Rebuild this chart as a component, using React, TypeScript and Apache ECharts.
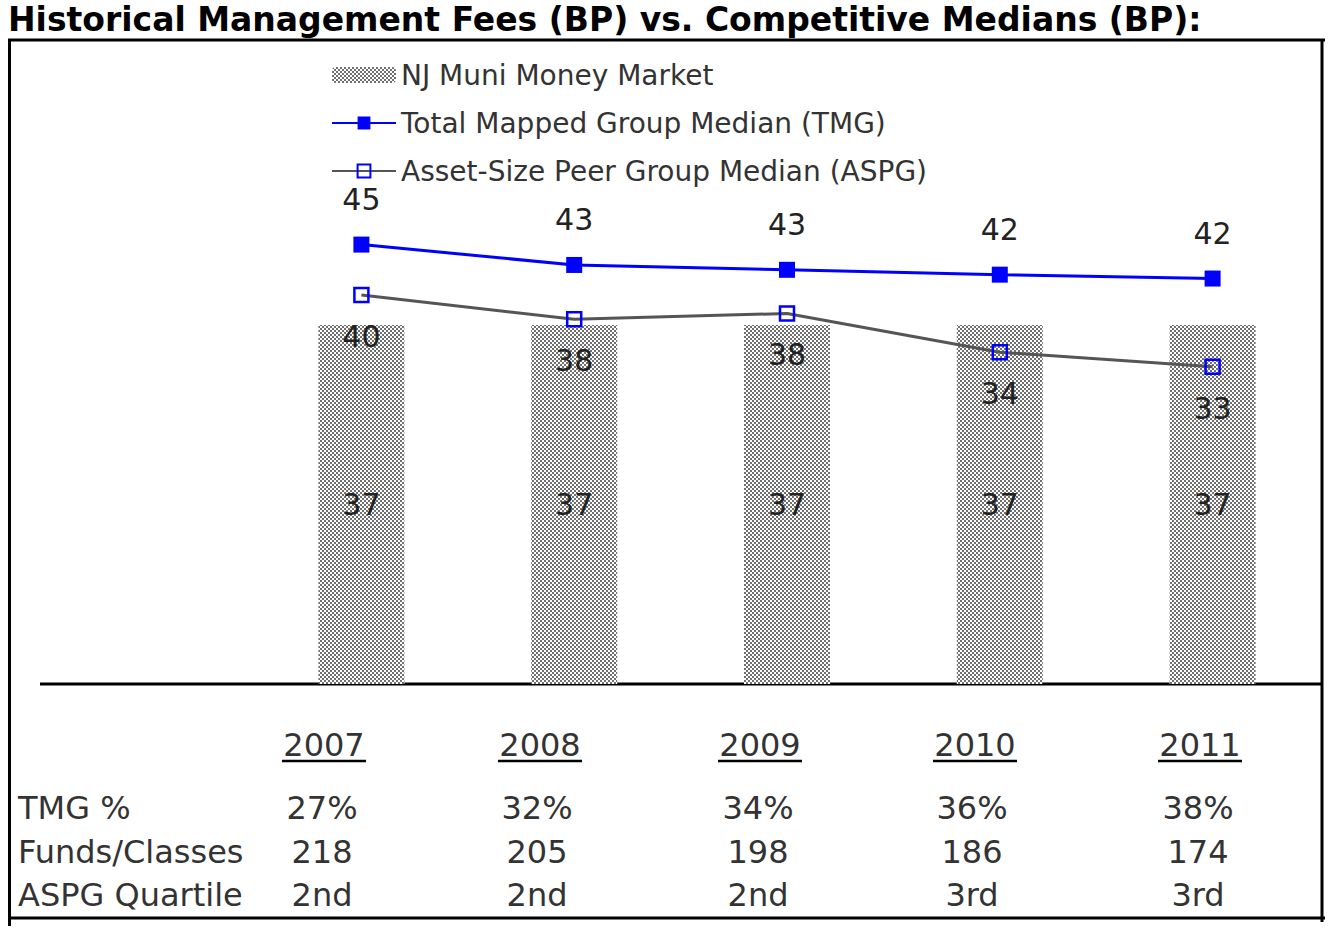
import React, { useEffect, useRef } from "react";
import * as echarts from "echarts";

const years = ["2007", "2008", "2009", "2010", "2011"];
const fundValues = [37, 37, 37, 37, 37];
const tmgMedian = [45.3, 43.2, 42.7, 42.2, 41.8];
const aspgMedian = [40.1, 37.6, 38.2, 34.2, 32.7];
const tmgPct = ["27%", "32%", "34%", "36%", "38%"];
const fundsClasses = ["218", "205", "198", "186", "174"];
const aspgQuartile = ["2nd", "2nd", "2nd", "3rd", "3rd"];
const rowLabels = ["TMG %", "Funds/Classes", "ASPG Quartile"];
const titleText = "Historical Management Fees (BP) vs. Competitive Medians (BP):";

const FONT = "'DejaVu Sans', Verdana, sans-serif";

export default function App() {
  const ref = useRef<HTMLDivElement>(null);
  useEffect(() => {
    if (!ref.current) return;
    const chart = echarts.init(ref.current, undefined, { renderer: "svg" });

    const c = document.createElement("canvas");
    c.width = 4;
    c.height = 4;
    const ctx = c.getContext("2d")!;
    ctx.fillStyle = "#ffffff";
    ctx.fillRect(0, 0, 4, 4);
    ctx.fillStyle = "#707070";
    ctx.fillRect(0, 0, 2, 2);
    ctx.fillRect(2, 2, 2, 2);
    const pattern: any = { image: c, repeat: "repeat", imageWidth: 4, imageHeight: 4 };

    const colX = [322, 537, 758, 972, 1198];
    const yearX = [324, 540, 760, 975, 1200];
    const rowsY = [808, 852, 895];

    const graphics: any[] = [];
    graphics.push({
      type: "text",
      x: 8,
      y: 19,
      style: {
        text: titleText,
        fontSize: 33,
        fontWeight: "bold",
        fontFamily: FONT,
        fill: "#000",
        align: "left",
        verticalAlign: "middle",
      },
    });
    // frame
    const lineStyle = { stroke: "#000", lineWidth: 3 };
    graphics.push({ type: "line", shape: { x1: 8, y1: 40, x2: 1325, y2: 40 }, style: lineStyle });
    graphics.push({ type: "line", shape: { x1: 9.5, y1: 40, x2: 9.5, y2: 926 }, style: lineStyle });
    graphics.push({ type: "line", shape: { x1: 1322, y1: 40, x2: 1322, y2: 922 }, style: lineStyle });
    graphics.push({ type: "line", shape: { x1: 8, y1: 918, x2: 1325, y2: 918 }, style: lineStyle });
    // baseline
    graphics.push({ type: "line", shape: { x1: 40, y1: 684, x2: 1322, y2: 684 }, style: lineStyle });

    years.forEach((y, i) => {
      graphics.push({
        type: "text",
        x: yearX[i],
        y: 745,
        style: { text: y, fontSize: 32, fontFamily: FONT, fill: "#333", align: "center", verticalAlign: "middle" },
      });
      graphics.push({
        type: "line",
        shape: { x1: yearX[i] - 42, y1: 761, x2: yearX[i] + 42, y2: 761 },
        style: { stroke: "#000", lineWidth: 2.5 },
      });
    });
    rowLabels.forEach((t, r) => {
      graphics.push({
        type: "text",
        x: 18,
        y: rowsY[r],
        style: { text: t, fontSize: 32, fontFamily: FONT, fill: "#333", align: "left", verticalAlign: "middle" },
      });
    });
    [tmgPct, fundsClasses, aspgQuartile].forEach((row, r) => {
      row.forEach((t, i) => {
        graphics.push({
          type: "text",
          x: colX[i],
          y: rowsY[r],
          style: { text: t, fontSize: 32, fontFamily: FONT, fill: "#333", align: "center", verticalAlign: "middle" },
        });
      });
    });

    chart.setOption({
      animation: false,
      backgroundColor: "#fff",
      textStyle: { fontFamily: FONT },
      legend: {
        orient: "vertical",
        left: 326,
        top: 53,
        itemGap: 14,
        itemWidth: 64,
        itemHeight: 16,
        textStyle: { fontSize: 28, color: "#333", fontFamily: FONT, lineHeight: 34 },
        data: [
          { name: "NJ Muni Money Market" },
          { name: "Total Mapped Group Median (TMG)" },
          { name: "Asset-Size Peer Group Median (ASPG)" },
        ],
      },
      grid: { left: 255, width: 1064, top: 199, height: 485 },
      xAxis: {
        type: "category",
        data: years,
        axisLine: { show: false },
        axisTick: { show: false },
        axisLabel: { show: false },
      },
      yAxis: {
        type: "value",
        min: 0,
        max: 50,
        show: false,
        splitLine: { show: false },
      },
      series: [
        {
          name: "NJ Muni Money Market",
          type: "bar",
          data: fundValues,
          barWidth: 86,
          itemStyle: { color: pattern },
          label: {
            show: true,
            position: "inside",
            fontSize: 30,
            color: "#222",
            fontFamily: FONT,
          },
          z: 1,
        },
        {
          name: "Total Mapped Group Median (TMG)",
          type: "line",
          data: tmgMedian,
          symbol: "rect",
          symbolSize: 16,
          lineStyle: { color: "#0000ff", width: 3 },
          itemStyle: { color: "#0000ff" },
          label: {
            show: true,
            position: "top",
            distance: 22,
            fontSize: 30,
            color: "#222",
            fontFamily: FONT,
            formatter: (p: any) => String(Math.round(p.value)),
          },
          z: 3,
        },
        {
          name: "Asset-Size Peer Group Median (ASPG)",
          type: "line",
          data: aspgMedian,
          symbol: "rect",
          symbolSize: 14,
          lineStyle: { color: "#555", width: 3 },
          itemStyle: { color: "rgba(255,255,255,0)", borderColor: "#0000ff", borderWidth: 2.5 },
          label: {
            show: true,
            position: "bottom",
            distance: 18,
            fontSize: 30,
            color: "#222",
            fontFamily: FONT,
            formatter: (p: any) => String(Math.round(p.value)),
          },
          z: 2,
        },
      ],
      graphic: graphics,
    });
    return () => chart.dispose();
  }, []);
  return (
    <div
      ref={ref}
      style={{ position: "absolute", left: 0, top: 0, width: 1333, height: 928 }}
    />
  );
}
